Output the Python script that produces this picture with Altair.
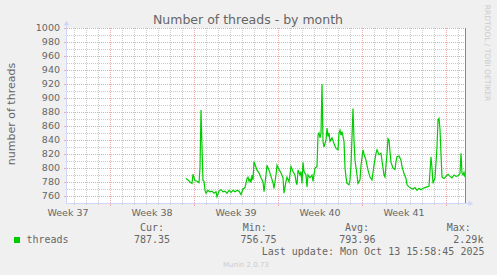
import altair as alt
import pandas as pd

# ---- data (hours since Mon 15 Sep 2025 00:00, number of threads) ----
hours = [152,156,160,164,166,170,174,178,180,182,184,186,188,190,192,196,200,204,208,212,
         214,218,222,226,230,234,238,242,246,250,254,258,262,266,270,274,276,278,280,282,
         284,286,288,290,294,298,302,306,308,312,314,318,322,326,328,332,334,338,342,346,
         348,352,354,358,362,366,370,372,374,376,380,382,384,386,388,392,394,396,400,404,
         406,410,414,416,418,420,422,424,426,428,432,434,436,438,440,444,448,452,456,458,
         460,462,464,468,470,472,474,478,480,482,486,488,490,494,496,500,502,506,508,512,
         516,520,524,528,532,534,538,542,544,548,550,554,556,558,560,562,566,570,572,574,
         578,582,584,588,592,594,598,602,606,610,614,618,622,626,630,634,638,642,644,646,
         650,654,656,658,660,662,664,668,672,676,680,684,688,692,696,700,702,704,706,708,
         710]
threads = [785,783,780,778,791,782,781,779,800,883,830,782,781,768,764,768,766,767,764,766,
           759,767,769,766,767,764,768,765,768,766,768,767,762,770,772,785,787,781,784,779,
           790,783,809,805,797,793,786,780,766,790,804,797,788,779,771,790,804,798,793,786,
           764,781,787,780,802,795,790,781,776,797,790,795,778,808,795,790,773,790,786,790,
           781,800,802,847,850,843,850,920,838,830,840,857,845,850,838,843,835,828,826,850,
           854,847,852,838,800,787,778,776,783,804,885,840,811,790,778,783,804,826,820,811,
           797,787,783,804,821,826,819,821,810,790,787,821,842,840,823,808,800,798,809,816,
           817,811,802,792,785,776,773,771,770,772,768,771,769,771,772,773,774,816,800,778,
           786,830,869,871,855,819,787,785,788,791,788,786,790,788,789,792,821,793,790,794,
           787]
assert len(hours) == len(threads)

y_major = [760, 780, 800, 820, 840, 860, 880, 900, 920, 940, 960, 980, 1000]
y_minor = [770, 790, 810, 830, 850, 870, 890, 910, 930, 950, 970, 990]
day_lines = [-72, -48, -24, 24, 48, 72, 96, 120, 144, 192, 216, 240, 264, 288, 312,
             360, 384, 408, 432, 456, 480, 528, 552, 576, 600, 624, 648, 696]
week_lines = [0, 168, 336, 504, 672]
week_mid = [-84, 84, 252, 420, 588]
week_labels = ["Week 37", "Week 38", "Week 39", "Week 40", "Week 41"]

title_text = "Number of threads - by month"
y_title = "number of threads"
series_name = "threads"
cur_val, min_val, avg_val, max_val = "787.35", "756.75", "793.96", "2.29k"
last_update = "Last update: Mon Oct 13 15:58:45 2025"
munin_ver = "Munin 2.0.73"
watermark = "RRDTOOL / TOBI OETIKER"

# ---- styling ----
W, H = 400, 175
FONT = "DejaVu Sans"
MONO = "DejaVu Sans Mono"
TXT = "#666666"
AXIS = "#CFD6F8"
GRID = "#cccccc"
MGRID = "#eeaaaa"
GREEN = "#00CC00"

xs = alt.Scale(domain=[-88, 712], nice=False, zero=False)
ys = alt.Scale(domain=[750, 1000], nice=False, zero=False)

df_line = pd.DataFrame({"h": hours, "v": threads})
df_ymaj = pd.DataFrame({"v": y_major})
df_ymin = pd.DataFrame({"v": y_minor})
df_day = pd.DataFrame({"h": day_lines})
df_week = pd.DataFrame({"h": week_lines})
df_wlab = pd.DataFrame({"h": week_mid, "t": week_labels})
one = pd.DataFrame({"k": [0]})

def X(f="h"):
    return alt.X(f"{f}:Q", scale=xs, axis=None)

def Y(f="v"):
    return alt.Y(f"{f}:Q", scale=ys, axis=None)

def hrule(df, color):
    return alt.Chart(df).mark_rule(color=color, strokeWidth=1, strokeDash=[1, 1], yOffset=0.5).encode(y=Y())

def vrule(df, color):
    return alt.Chart(df).mark_rule(color=color, strokeWidth=1, strokeDash=[1, 1], xOffset=0.5).encode(x=X())

grid_ymin = hrule(df_ymin, GRID)
grid_ymaj = hrule(df_ymaj, MGRID)
grid_xmin = vrule(df_day, GRID)
grid_xmaj = vrule(df_week, MGRID)

tick_y = alt.Chart(pd.DataFrame({"v": y_major})).mark_rule(color=MGRID, yOffset=0.5).encode(
    y=Y(), x=alt.value(-2), x2=alt.value(0))
tick_xd = alt.Chart(df_day).mark_rule(color=GRID, xOffset=0.5).encode(x=X(), y=alt.value(H), y2=alt.value(H + 2))
tick_xw = alt.Chart(df_week).mark_rule(color=MGRID, xOffset=0.5).encode(x=X(), y=alt.value(H), y2=alt.value(H + 3))

axis_left = alt.Chart(one).mark_rule(color=AXIS, xOffset=0.5).encode(x=alt.value(0), y=alt.value(-3), y2=alt.value(H))
axis_bot = alt.Chart(one).mark_rule(color=AXIS, yOffset=0.5).encode(x=alt.value(0), x2=alt.value(W + 3), y=alt.value(H))
arrow_up = alt.Chart(one).mark_point(shape="triangle-up", filled=True, color=AXIS, size=30, opacity=1).encode(
    x=alt.value(0.5), y=alt.value(-5))
arrow_rt = alt.Chart(one).mark_point(shape="triangle-right", filled=True, color=AXIS, size=30, opacity=1).encode(
    x=alt.value(W + 5), y=alt.value(H + 0.5))

right_rule = alt.Chart(one).mark_rule(color="#888888").encode(x=alt.value(W - 0.5), y=alt.value(0), y2=alt.value(H))

line = alt.Chart(df_line).mark_line(color=GREEN, strokeWidth=1.2).encode(x=X(), y=Y())

ylabels = alt.Chart(df_ymaj).mark_text(align="right", baseline="middle", font=FONT, fontSize=9.5,
                                        color=TXT).encode(x=alt.value(-6), y=Y(), text=alt.Text("v:Q", format="d"))
wlabels = alt.Chart(df_wlab).mark_text(align="center", baseline="alphabetic", font=FONT, fontSize=9.5,
                                        color=TXT).encode(x=X(), y=alt.value(188), text="t:N")

def txt(s, x, y, font=FONT, size=9.5, color=TXT, align="left", angle=0, baseline="alphabetic"):
    return alt.Chart(pd.DataFrame({"t": [s]})).mark_text(
        align=align, baseline=baseline, font=font, fontSize=size, color=color, angle=angle
    ).encode(x=alt.value(x), y=alt.value(y), text="t:N")

title = txt(title_text, 182, -4, size=12.5, align="center")
ytitle = txt(y_title, -51, 86, size=11, align="center", angle=270)
wm = txt(watermark, 419, 25, size=7.5, color="#cccccc", align="center", angle=90)

legend_sq = alt.Chart(one).mark_square(color=GREEN, size=36, opacity=1, filled=True).encode(
    x=alt.value(-49), y=alt.value(212))
leg = [
    txt(series_name, -39.5, 215.3, font=MONO, size=10),
    txt("Cur:", 74, 203, font=MONO, size=10),
    txt(cur_val, 68, 215.3, font=MONO, size=10),
    txt("Min:", 176.7, 203, font=MONO, size=10),
    txt(min_val, 174.5, 215.3, font=MONO, size=10),
    txt("Avg:", 279, 203, font=MONO, size=10),
    txt(avg_val, 273.3, 215.3, font=MONO, size=10),
    txt("Max:", 380.7, 203, font=MONO, size=10),
    txt(max_val, 387.3, 215.3, font=MONO, size=10),
    txt(last_update, 195.7, 226.6, font=MONO, size=10),
    txt(munin_ver, 157, 239, size=7, color="#cccccc"),
]

chart = alt.layer(
    grid_ymin, grid_xmin, grid_ymaj, grid_xmaj,
    tick_y, tick_xd, tick_xw,
    axis_left, axis_bot, arrow_up, arrow_rt,
    line, right_rule,
    ylabels, wlabels, title, ytitle, wm, legend_sq, *leg
).properties(
    width=W, height=H,
    autosize=alt.AutoSizeParams(type="none"),
    padding={"left": 66, "top": 28, "right": 31, "bottom": 72},
    background="#f0f0f0",
).configure_view(fill="white", strokeWidth=0)

chart.save("out.html", embed_options={"renderer": "svg", "actions": False})
